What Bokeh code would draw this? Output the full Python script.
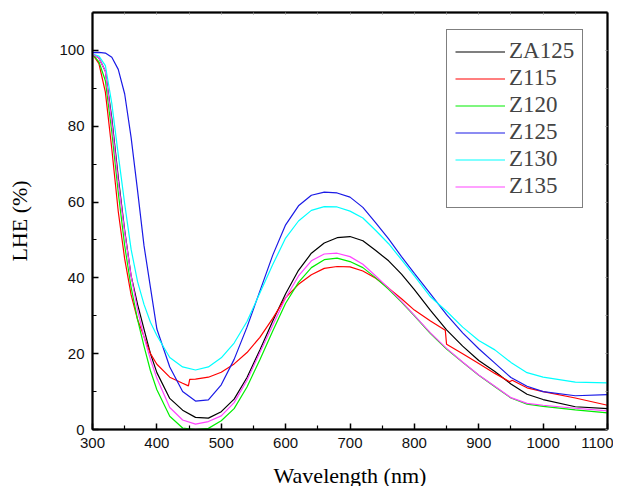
from bokeh.plotting import figure
from bokeh.models import LinearAxis, Legend, LegendItem, Range1d, FixedTicker, CustomJSTickFormatter
from bokeh.embed import file_html
from bokeh.resources import INLINE

wavelength = [300, 310, 320, 330, 340, 350, 360, 370, 380, 390, 400, 420, 440, 460, 480,
              500, 520, 540, 560, 580, 600, 620, 640, 660, 680, 700, 720, 740, 760, 780,
              800, 825, 850, 875, 900, 925, 950, 975, 1000, 1050, 1100]

za125 = [99, 98, 94.5, 82, 66.5, 52.5, 40.5, 33, 26.5, 20, 15, 8.2, 5.1, 3.2, 3.0,
         4.7, 8, 13.7, 21, 28.6, 35.8, 42, 46.5, 49.2, 50.6, 50.9, 49.8, 47.2, 44.5, 41,
         36.9, 31.4, 26.3, 22, 18.2, 15.3, 12, 9.3, 7.9, 6, 5.5]

z120 = [99, 97, 92, 78.5, 62.5, 48.5, 37.5, 29, 22, 15.5, 10.5, 3.5, 0.4, 0, 0.3,
        2.3, 5.5, 11.2, 18.4, 26, 33.3, 38.8, 42.7, 44.8, 45.2, 44.3, 42.7, 40, 37, 33.6,
        30, 25.3, 21.2, 17.7, 14.3, 11.3, 8.3, 6.7, 6.1, 5.2, 4.4]

z125 = [99.4, 99.5, 99.3, 98.2, 95, 88.5, 77, 63, 48.5, 37.5, 26.5, 16.5, 10, 7.5, 7.8,
        11.8, 18.5, 27, 36.5, 46, 54, 59, 61.8, 62.6, 62.4, 61.3, 58.6, 54.5, 50.3, 45.6,
        41.2, 35.8, 30.3, 25.5, 21.3, 17.5, 13.7, 11.4, 10, 8.9, 9.2]

z130 = [99, 98.5, 96, 86, 72.5, 59.5, 47.5, 39, 33, 28.3, 24.8, 19, 16.5, 15.7, 16.5,
        18.9, 22.8, 28.5, 36, 43.5, 50.5, 55, 57.8, 58.8, 58.7, 57.6, 55.8, 52.5, 49, 44.8,
        40.5, 35, 31.2, 27, 23.5, 21, 17.7, 15, 13.8, 12.5, 12.3]

z135 = [99, 98, 94.5, 81, 65.5, 52, 40.5, 31.5, 24.4, 18.5, 13.5, 5.8, 2.5, 1.4, 2.1,
        3.6, 7.1, 13, 20.3, 27.5, 34.7, 40.5, 44.5, 46.3, 46.5, 45.6, 43.6, 40.5, 37.3, 33.8,
        30.1, 25.5, 21.4, 17.8, 14.4, 11.4, 8.4, 6.9, 6.4, 5.6, 4.9]

wavelength_z115 = [300, 310, 320, 330, 340, 350, 360, 370, 380, 390, 400, 420, 440, 449, 451,
                   460, 480, 500, 520, 540, 560, 580, 600, 620, 640, 660, 680, 700, 720, 740,
                   760, 780, 800, 825, 848, 850, 875, 900, 925, 948, 952, 975, 1000, 1050, 1100]
z115 = [99, 96.5, 89, 74, 57.5, 45, 35.5, 29, 24.5, 20, 17.2, 13.8, 12.2, 11.5, 13.2,
        13.3, 13.8, 15.1, 17.3, 20.3, 24.3, 29.3, 34.8, 38.3, 40.8, 42.5, 43, 42.9, 41.8, 39.9,
        37.3, 34.5, 31.5, 28.6, 26.2, 22.5, 20, 17.4, 14.8, 12.6, 13, 11, 10, 8.3, 6.4]

series_names = ["ZA125", "Z115", "Z120", "Z125", "Z130", "Z135"]
series_colors = ["#000000", "#FF0000", "#00EE00", "#1A1AE6", "#00FFFF", "#FF44FF"]
x_ticks = [300, 400, 500, 600, 700, 800, 900, 1000, 1100]
y_ticks = [0, 20, 40, 60, 80, 100]

p = figure(frame_width=515, frame_height=417, output_backend="svg", toolbar_location=None,
           x_range=Range1d(300, 1100), y_range=Range1d(0, 110),
           min_border_left=92, min_border_right=6, min_border_top=12, min_border_bottom=50)
p.background_fill_color = "white"
p.border_fill_color = "white"
p.outline_line_color = "black"
p.outline_line_width = 1.5
p.grid.visible = False

xs_list = [wavelength, wavelength_z115, wavelength, wavelength, wavelength, wavelength]
ys_list = [za125, z115, z120, z125, z130, z135]
renderers = []
for xs, ys, c in zip(xs_list, ys_list, series_colors):
    r = p.line(xs, ys, line_color=c, line_width=1.2)
    renderers.append(r)

for ax in [p.xaxis[0], p.yaxis[0]]:
    ax.axis_line_width = 2
    ax.axis_line_color = "black"
    ax.major_tick_in = 6
    ax.major_tick_out = 0
    ax.minor_tick_in = 4
    ax.minor_tick_out = 0
    ax.major_tick_line_width = 1.5
    ax.minor_tick_line_width = 1.2
    ax.major_label_text_font = "Liberation Sans"
    ax.major_label_text_font_size = "15px"
    ax.major_label_text_color = "#111111"
    ax.axis_label_text_font = "Liberation Serif"
    ax.axis_label_text_font_size = "22px"
    ax.axis_label_text_font_style = "normal"
    ax.axis_label_text_color = "black"

p.xaxis[0].ticker = FixedTicker(ticks=x_ticks, minor_ticks=[350, 450, 550, 650, 750, 850, 950, 1050])
p.yaxis[0].ticker = FixedTicker(ticks=y_ticks, minor_ticks=[10, 30, 50, 70, 90])
p.xaxis[0].axis_label = "Wavelength (nm)"
p.yaxis[0].axis_label = "LHE (%)"
p.xaxis[0].major_label_standoff = 8
p.xaxis[0].axis_label_standoff = 12
p.yaxis[0].major_label_standoff = 8
p.yaxis[0].axis_label_standoff = 24

empty_fmt = CustomJSTickFormatter(code="return '';")
top = LinearAxis(ticker=FixedTicker(ticks=x_ticks + [350, 450, 550, 650, 750, 850, 950, 1050]),
                 formatter=empty_fmt, major_tick_in=2, major_tick_out=0, minor_tick_in=0,
                 minor_tick_out=0, axis_line_width=2, major_tick_line_color="#888888",
                 major_label_text_font_size="0px", major_label_standoff=0)
right = LinearAxis(ticker=FixedTicker(ticks=[0, 10, 20, 30, 40, 50, 60, 70, 80, 90, 100]),
                   formatter=empty_fmt, major_tick_in=2, major_tick_out=0, minor_tick_in=0,
                   minor_tick_out=0, axis_line_width=2, major_tick_line_color="#888888",
                   major_label_text_font_size="0px", major_label_standoff=0)
p.add_layout(top, "above")
p.add_layout(right, "right")

legend = Legend(items=[LegendItem(label=n, renderers=[r]) for n, r in zip(series_names, renderers)],
                location=(354, 221))
legend.label_text_font = "Liberation Serif"
legend.label_text_font_size = "23px"
legend.glyph_width = 50
legend.glyph_height = 25
legend.label_height = 25
legend.spacing = 1
legend.padding = 8
legend.margin = 0
legend.label_standoff = 4
legend.border_line_color = "black"
legend.border_line_width = 1
legend.background_fill_color = "white"
legend.background_fill_alpha = 1
p.add_layout(legend, "center")

open("out.html", "w").write(file_html(p, INLINE))
